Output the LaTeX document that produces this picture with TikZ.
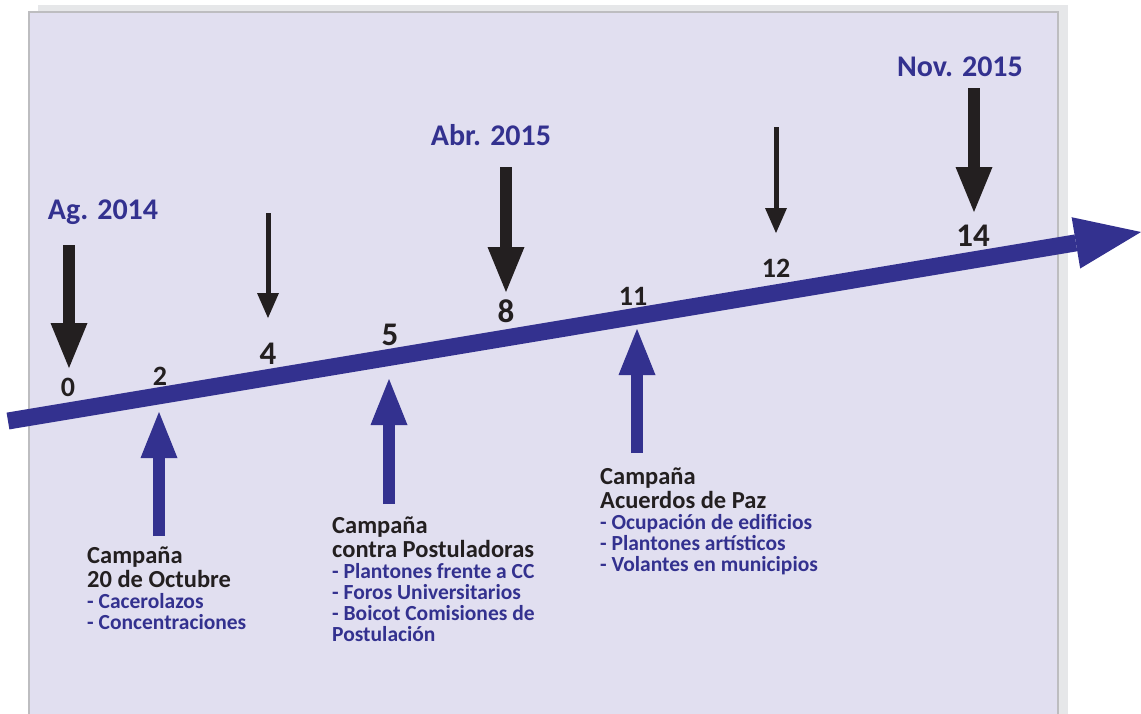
\documentclass[tikz,border=0pt]{standalone}
\usepackage{fontspec}
\setmainfont{Carlito}
\usepackage{tikz}
\usetikzlibrary{arrows.meta,positioning}

\definecolor{panelfill}{HTML}{E1DFF0}
\definecolor{panelline}{HTML}{BDBDC0}
\definecolor{shadowfill}{HTML}{E6E7E9}
\definecolor{axisblue}{HTML}{33318F}
\definecolor{arrowblack}{HTML}{231F20}

\tikzset{
  tline/.style={draw=axisblue, line width=17pt, -{Triangle[width=52pt,length=66pt,line width=0pt]}},
  bigdown/.style={draw=arrowblack, line width=11.5pt, -{Triangle[width=37pt,length=45pt,line width=0pt]}},
  smalldown/.style={draw=arrowblack, line width=5pt, -{Triangle[width=22pt,length=25pt,line width=0pt]}},
  bigup/.style={draw=axisblue, line width=11.5pt, -{Triangle[width=37pt,length=46pt,line width=0pt]}},
  datelbl/.style={text=axisblue, inner sep=0pt, font=\fontsize{30}{32}\selectfont\bfseries},
  numsmall/.style={text=arrowblack, inner sep=0pt, font=\fontsize{28}{30}\selectfont\bfseries},
  numbig/.style={text=arrowblack, inner sep=0pt, font=\fontsize{33}{35}\selectfont\bfseries},
  camptitle/.style={text=arrowblack, inner sep=0pt, anchor=base west, align=left,
    font=\fontsize{24.5}{23.5}\selectfont\bfseries},
  campitems/.style={text=axisblue, inner sep=0pt, align=left,
    font=\fontsize{21.5}{21}\selectfont\bfseries}
}

\begin{document}
\begin{tikzpicture}[x=1pt, y=-1pt, line cap=butt, line join=miter]
    \useasboundingbox (0,0) rectangle (1141,713);

    % Panel with shadow
    \fill[shadowfill] (38,5) rectangle (1068,730);
    \filldraw[fill=panelfill, draw=panelline, line width=2.5pt] (29,12) rectangle (1058,730);

    % Timeline
    \coordinate (tstart) at (8,421);
    \coordinate (tend) at (1141,232);
    \draw[tline] (tstart) -- (tend);

    % Months on the timeline
    \node[numsmall] (n0) at (68,387) {0};
    \node[numsmall] (n2) at (160,376) {2};
    \node[numbig] (n4) at (268,354) {4};
    \node[numbig] (n5) at (390,335) {5};
    \node[numbig] (n8) at (506,311) {8};
    \node[numsmall] (n11) at (633,296) {11};
    \node[numsmall] (n12) at (776,268) {12};
    \node[numbig] (n14) at (973,236) {14};

    % Dates
    \node[datelbl] (ag) at (103,212) {Ag. 2014};
    \node[datelbl] (abr) at (491,135) {Abr. 2015};
    \node[datelbl] (nov) at (960,67) {Nov. 2015};

    % Black arrows from above
    \coordinate (d0) at (69,245);   \coordinate (t0) at (69,368);
    \coordinate (d4) at (268,213);  \coordinate (t4) at (268,318);
    \coordinate (d8) at (506,167);  \coordinate (t8) at (506,292);
    \coordinate (d12) at (776,127); \coordinate (t12) at (776,233);
    \coordinate (d14) at (974,88);  \coordinate (t14) at (974,212);
    \draw[bigdown] (d0) -- (t0);
    \draw[smalldown] (d4) -- (t4);
    \draw[bigdown] (d8) -- (t8);
    \draw[smalldown] (d12) -- (t12);
    \draw[bigdown] (d14) -- (t14);

    % Blue arrows from below
    \coordinate (u2) at (159,536);  \coordinate (p2) at (159,412);
    \coordinate (u5) at (389,504);  \coordinate (p5) at (389,379);
    \coordinate (u11) at (637,453); \coordinate (p11) at (637,329);
    \draw[bigup] (u2) -- (p2);
    \draw[bigup] (u5) -- (p5);
    \draw[bigup] (u11) -- (p11);

    % Campaigns (base = last line of the title)
    \node[camptitle] (c1title) at (87,587) {Campaña\\20 de Octubre};
    \node[campitems, below=6pt of c1title.south west, anchor=north west] (c1items)
      {- Cacerolazos\\- Concentraciones};

    \node[camptitle] (c2title) at (332,557) {Campaña\\contra Postuladoras};
    \node[campitems, below=6pt of c2title.south west, anchor=north west] (c2items)
      {- Plantones frente a CC\\- Foros Universitarios\\- Boicot Comisiones de\\Postulación};

    \node[camptitle] (c3title) at (600,508) {Campaña\\Acuerdos de Paz};
    \node[campitems, below=6pt of c3title.south west, anchor=north west] (c3items)
      {- Ocupación de edificios\\- Plantones artísticos\\- Volantes en municipios};

\end{tikzpicture}
\end{document}
